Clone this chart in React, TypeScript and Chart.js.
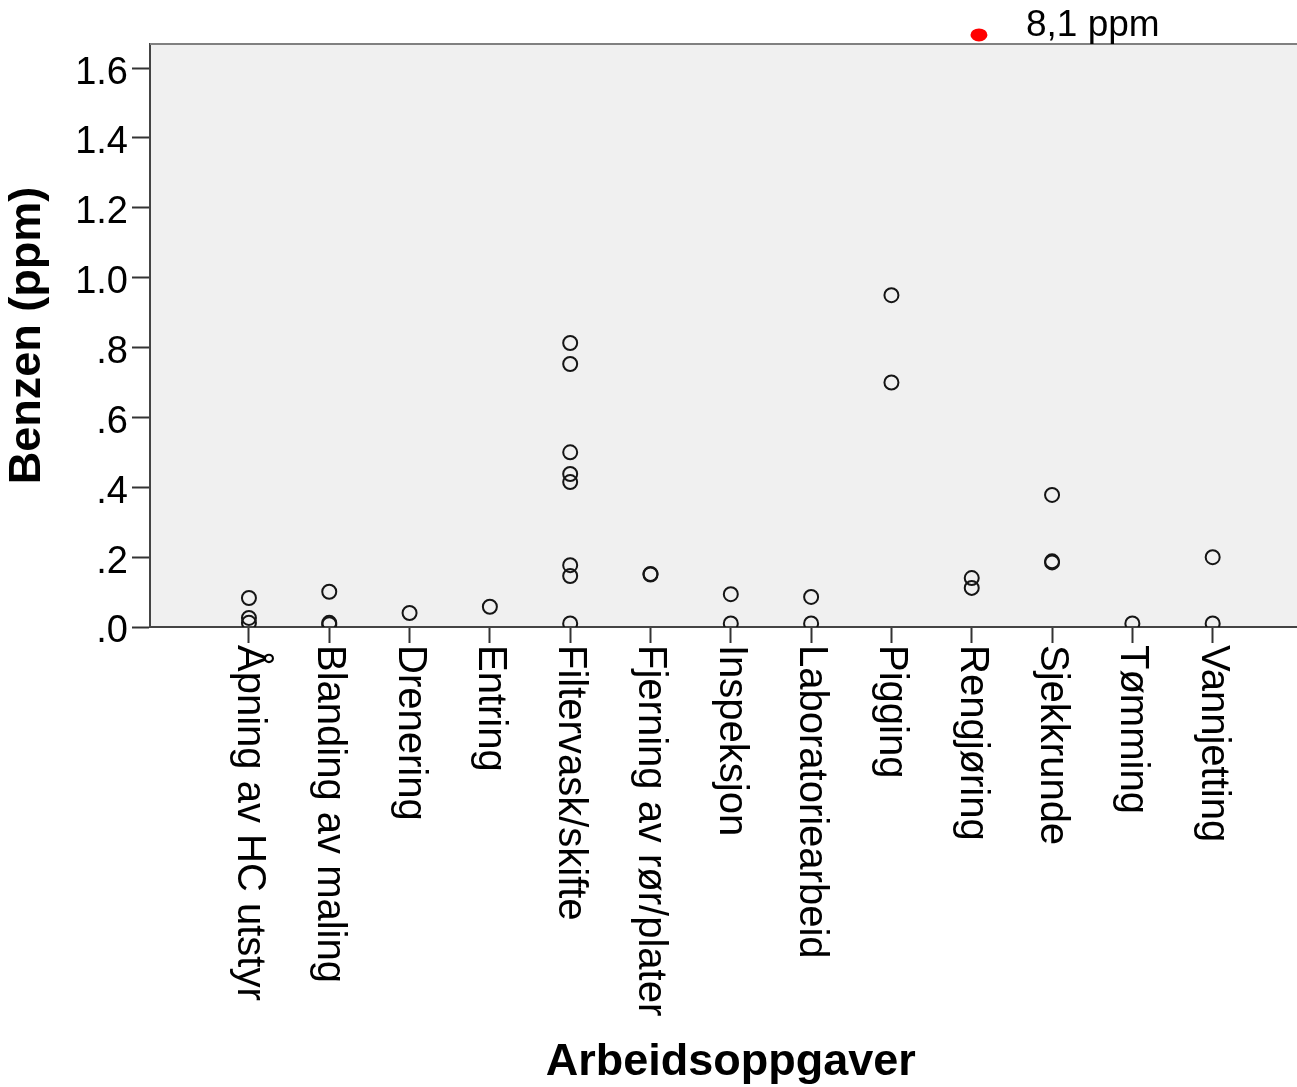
import { useEffect, useRef } from "react";
import { Chart, registerables } from "chart.js";

Chart.register(...registerables);

const categories = [
  "Åpning av HC utstyr",
  "Blanding av maling",
  "Drenering",
  "Entring",
  "Filtervask/skifte",
  "Fjerning av rør/plater",
  "Inspeksjon",
  "Laboratoriearbeid",
  "Pigging",
  "Rengjøring",
  "Sjekkrunde",
  "Tømming",
  "Vannjetting",
];

const benzenByTask: number[][] = [
  [0.083, 0.026, 0.012],
  [0.101, 0.012, 0.008],
  [0.04],
  [0.058],
  [0.813, 0.753, 0.5, 0.438, 0.415, 0.177, 0.146, 0.01],
  [0.152, 0.15],
  [0.094, 0.01],
  [0.086, 0.01],
  [0.95, 0.7],
  [0.14, 0.112],
  [0.378, 0.188, 0.185],
  [0.01],
  [0.2, 0.01],
];

const yTickValues = [0, 0.2, 0.4, 0.6, 0.8, 1.0, 1.2, 1.4, 1.6];
const yTickLabels = [".0", ".2", ".4", ".6", ".8", "1.0", "1.2", "1.4", "1.6"];
const yMin = 0;
const yMax = 1.669;
const xMin = -1.232;
const xMax = 13.05;

const yAxisTitle = "Benzen (ppm)";
const xAxisTitle = "Arbeidsoppgaver";

// off-scale outlier marker (8,1 ppm) shown above the frame near Rengjøring
const outlierTaskPosition = 9.09;
const outlierDisplayValue = 1.695;
const outlierLabel = "8,1 ppm";

const FONT = '"Liberation Sans", Arial, Helvetica, sans-serif';

export default function App() {
  const canvasRef = useRef<HTMLCanvasElement | null>(null);

  useEffect(() => {
    const canvas = canvasRef.current;
    if (!canvas) return;

    const points = benzenByTask.flatMap((vals, i) =>
      vals.map((v) => ({ x: i, y: v }))
    );

    const decor = {
      id: "decor",
      beforeDraw(chart: any) {
        const { ctx, chartArea: a } = chart;
        ctx.save();
        ctx.fillStyle = "#ffffff";
        ctx.fillRect(0, 0, chart.width, chart.height);
        ctx.fillStyle = "#f0f0f0";
        ctx.fillRect(a.left, a.top, a.right - a.left, a.bottom - a.top);
        ctx.restore();
      },
      afterDraw(chart: any) {
        const { ctx, chartArea: a, scales } = chart;
        const xs = scales.x;
        const ys = scales.y;
        ctx.save();
        // top frame line
        ctx.strokeStyle = "#808080";
        ctx.lineWidth = 2;
        ctx.beginPath();
        ctx.moveTo(a.left, a.top);
        ctx.lineTo(a.right, a.top);
        ctx.stroke();

        // rotated category labels (reading top to bottom)
        ctx.fillStyle = "#000";
        ctx.font = `40px ${FONT}`;
        ctx.textAlign = "left";
        ctx.textBaseline = "middle";
        categories.forEach((c, i) => {
          const x = xs.getPixelForValue(i);
          ctx.save();
          ctx.translate(x, a.bottom + 18);
          ctx.rotate(Math.PI / 2);
          ctx.fillText(c, 0, 0);
          ctx.restore();
        });

        // x axis title
        ctx.font = `bold 45px ${FONT}`;
        ctx.textAlign = "center";
        ctx.textBaseline = "alphabetic";
        const cx =
          (xs.getPixelForValue(0) + xs.getPixelForValue(categories.length - 1)) / 2;
        ctx.fillText(xAxisTitle, cx, chart.height - 12);

        // off-scale outlier marker + annotation
        const px = xs.getPixelForValue(outlierTaskPosition);
        const py = ys.getPixelForValue(outlierDisplayValue);
        ctx.fillStyle = "#ff0000";
        ctx.beginPath();
        ctx.ellipse(px, py, 8.5, 6.5, 0, 0, Math.PI * 2);
        ctx.fill();
        ctx.fillStyle = "#000";
        ctx.font = `37px ${FONT}`;
        ctx.textAlign = "left";
        ctx.fillText(outlierLabel, px + 47, py + 1);
        ctx.restore();
      },
    };

    const chart = new Chart(canvas, {
      type: "scatter",
      data: {
        datasets: [
          {
            data: points,
            pointRadius: 7,
            pointHoverRadius: 7,
            borderWidth: 2,
            borderColor: "#151515",
            backgroundColor: "rgba(0,0,0,0)",
            clip: 0,
          } as any,
        ],
      },
      options: {
        responsive: false,
        animation: false,
        devicePixelRatio: 1,
        events: [],
        layout: { autoPadding: false, padding: { top: 44, left: 0, right: 0, bottom: 0 } },
        plugins: {
          legend: { display: false },
          tooltip: { enabled: false },
        },
        scales: {
          x: {
            type: "linear",
            min: xMin,
            max: xMax,
            afterBuildTicks: (s: any) => {
              s.ticks = categories.map((_, i) => ({ value: i }));
            },
            afterFit: (s: any) => {
              s.height = 460;
            },
            ticks: { display: false },
            grid: {
              drawOnChartArea: false,
              drawTicks: true,
              tickLength: 16,
              tickColor: "#333",
              tickWidth: 2,
            },
            border: { display: true, color: "#444", width: 2 },
          },
          y: {
            type: "linear",
            min: yMin,
            max: yMax,
            afterBuildTicks: (s: any) => {
              s.ticks = yTickValues.map((v) => ({ value: v }));
            },
            afterFit: (s: any) => {
              s.width = 150;
            },
            ticks: {
              callback: (_v: any, i: number) => yTickLabels[i],
              font: { family: FONT, size: 38 },
              color: "#000",
              padding: 4,
              labelOffset: 5,
            },
            grid: {
              drawOnChartArea: false,
              drawTicks: true,
              tickLength: 18,
              tickColor: "#333",
              tickWidth: 2,
            },
            border: { display: true, color: "#444", width: 2 },
            title: {
              display: true,
              text: yAxisTitle,
              font: { family: FONT, size: 45, weight: "bold" },
              color: "#000",
              padding: { top: 1, bottom: 0 },
            },
          },
        },
      } as any,
      plugins: [decor],
    });

    return () => chart.destroy();
  }, []);

  return (
    <div style={{ position: "absolute", left: 0, top: 0, width: 1297, height: 1087 }}>
      <canvas ref={canvasRef} width={1297} height={1087} style={{ display: "block" }} />
    </div>
  );
}
